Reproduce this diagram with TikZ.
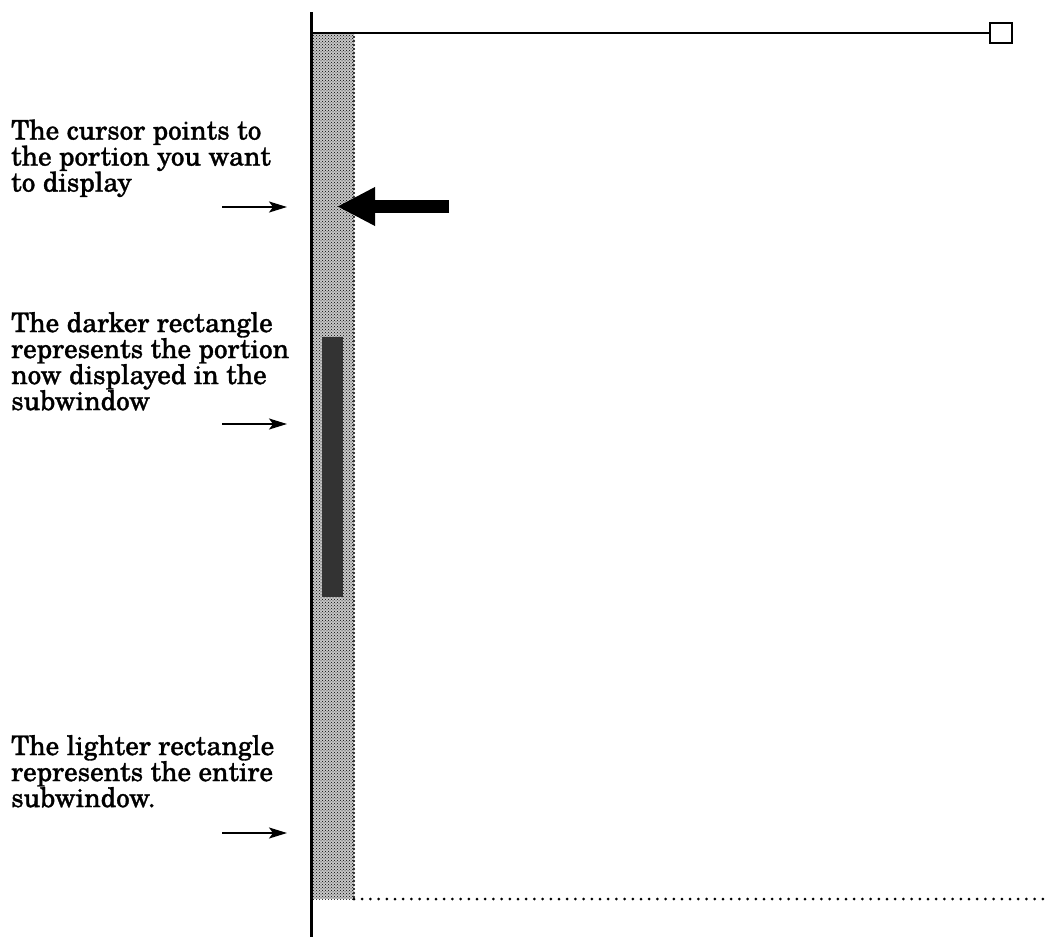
\documentclass[tikz,border=0pt]{standalone}
\usepackage{fontspec}
\setmainfont{TeX Gyre Schola}
\newfontfamily\labelfont[FakeBold=1.2]{TeX Gyre Schola}
\usepackage{tikz}
\usetikzlibrary{arrows.meta, patterns}

\begin{document}
\begin{tikzpicture}[
        x=1pt, y=-1pt,
        label/.style={
          anchor=base west,
          align=left,
          inner sep=0pt,
          font=\labelfont\fontsize{27}{26}\selectfont
        },
        pointer/.style={
          -{Stealth[length=18pt, width=11pt, inset=4pt]},
          line width=2pt
        }
      ]
        \useasboundingbox (0,0) rectangle (1045,937);

        % scroll bar and subwindow edges
        \fill[black!22] (311,33) rectangle (354,899);
        \fill[pattern=crosshatch dots] (311,33) rectangle (354,899);
        \fill[black!80] (322,337) rectangle (343,597);
        \draw[line width=2.2pt, line cap=round, dash pattern=on 0pt off 4pt] (354,33) -- (354,899);
        \draw[line width=3pt, line cap=round, dash pattern=on 0pt off 8.2pt] (354,899) -- (1045,899);
        \draw[line width=3pt] (311,12) -- (311,937);
        \node (corner) at (1001,33) [draw, line width=2.5pt, minimum width=22pt, minimum height=20pt, inner sep=0pt] {};
        \draw[line width=2pt] (311,33) -- (corner.west);

        % cursor
        \coordinate (cursortail) at (449,206.5);
        \coordinate (cursortip)  at (337,206.5);
        \draw[-{Triangle[length=38pt, width=36pt]}, line width=13pt] (cursortail) -- (cursortip);

        % labels (anchored on the last line)
        \node (cursorlabel) at (11,191.5) [label] {The cursor points to\\the portion you want\\to display};
        \node (darklabel)   at (11,410)   [label] {The darker rectangle\\represents the portion\\now displayed in the\\subwindow};
        \node (lightlabel)  at (11,807)   [label] {The lighter rectangle\\represents the entire\\subwindow.};

        \coordinate (cursorfrom) at (222,207);
        \coordinate (cursorto)   at (287,207);
        \coordinate (darkfrom)   at (222,424);
        \coordinate (darkto)     at (287,424);
        \coordinate (lightfrom)  at (222,833);
        \coordinate (lightto)    at (287,833);

        \draw[pointer] (cursorfrom) -- (cursorto);
        \draw[pointer] (darkfrom) -- (darkto);
        \draw[pointer] (lightfrom) -- (lightto);
      \end{tikzpicture}
\end{document}
